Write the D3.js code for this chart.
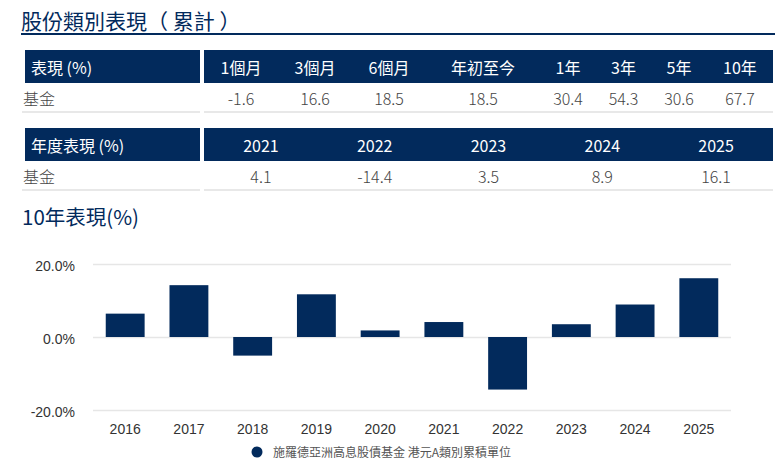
<!DOCTYPE html>
<html>
<head>
<meta charset="utf-8">
<script src="https://cdn.jsdelivr.net/npm/d3@7"></script>
<style>
  body { margin: 0; background: #fff; }
  svg { display: block; }
</style>
</head>
<body>
<svg id="chart" width="775" height="470"></svg>
<script>
// table 1: cumulative
const cumHeaders = ["1個月", "3個月", "6個月", "年初至今", "1年", "3年", "5年", "10年"];
const cumValues = ["-1.6", "16.6", "18.5", "18.5", "30.4", "54.3", "30.6", "67.7"];

// table 2: calendar year
const yearHeaders = ["2021", "2022", "2023", "2024", "2025"];
const yearValues = ["4.1", "-14.4", "3.5", "8.9", "16.1"];

// bar chart
const years = ["2016", "2017", "2018", "2019", "2020", "2021", "2022", "2023", "2024", "2025"];
const returns = [6.4, 14.2, -5.1, 11.7, 1.8, 4.1, -14.4, 3.5, 8.9, 16.1];
const yTicks = [-20, 0, 20];
const seriesName = "施羅德亞洲高息股債基金 港元A類別累積單位";

const navy = "#022a5c";
const cjk = "'Noto Sans CJK TC', 'Noto Sans', sans-serif";
const sans = "'Liberation Sans', Arial, sans-serif";

const svg = d3.select("#chart");

// main heading + underline
svg.append("text")
  .attr("x", 21).attr("y", 29)
  .attr("font-family", cjk).attr("font-size", 21)
  .attr("fill", navy)
  .text("股份類別表現（ 累計 ）");
svg.append("rect")
  .attr("x", 21).attr("y", 33).attr("width", 754).attr("height", 2)
  .attr("fill", navy);

// draw one table block
function drawTable(top, label, headers, values, widths) {
  const left = 204, right = 773;
  let edges = [left];
  widths.forEach(w => edges.push(edges[edges.length - 1] + w));
  const sx = d3.scaleLinear().domain([left, edges[edges.length - 1]]).range([left, right]);
  const centers = headers.map((d, i) => sx((edges[i] + edges[i + 1]) / 2));

  const g = svg.append("g");
  g.append("rect").attr("x", 25).attr("y", top).attr("width", 175).attr("height", 33).attr("fill", navy);
  g.append("rect").attr("x", left).attr("y", top).attr("width", right - left).attr("height", 33).attr("fill", navy);
  g.append("text")
    .attr("x", 31).attr("y", top + 24)
    .attr("font-family", cjk).attr("font-size", 16).attr("fill", "#fff")
    .text(label);

  g.selectAll(".hd").data(headers).join("text")
    .attr("class", "hd")
    .attr("x", (d, i) => centers[i]).attr("y", top + 24)
    .attr("text-anchor", "middle")
    .attr("font-family", cjk).attr("font-size", 16).attr("fill", "#fff")
    .text(d => d);

  g.append("text")
    .attr("x", 23).attr("y", top + 55)
    .attr("font-family", cjk).attr("font-size", 16).attr("font-weight", 300).attr("fill", "#444")
    .text("基金");

  g.selectAll(".val").data(values).join("text")
    .attr("class", "val")
    .attr("x", (d, i) => centers[i]).attr("y", top + 55)
    .attr("text-anchor", "middle")
    .attr("font-family", cjk).attr("font-size", 16).attr("font-weight", 300).attr("fill", "#444")
    .text(d => d);

  g.append("rect").attr("x", 22).attr("y", top + 61).attr("width", 178).attr("height", 2).attr("fill", "#e8e8e8");
  g.append("rect").attr("x", left).attr("y", top + 61).attr("width", right - left).attr("height", 2).attr("fill", "#e8e8e8");
}

drawTable(50, "表現 (%)", cumHeaders, cumValues, [74, 74, 74, 114, 56, 55, 56, 66]);
drawTable(128, "年度表現 (%)", yearHeaders, yearValues, yearHeaders.map(() => 1));

// chart heading
svg.append("text")
  .attr("x", 22).attr("y", 225)
  .attr("font-family", cjk).attr("font-size", 20.5)
  .attr("fill", navy)
  .text("10年表現(%)");

// bar chart
const plot = { left: 93, right: 731, top: 264, bottom: 410 };

const x = d3.scaleBand()
  .domain(years)
  .range([plot.left, plot.right])
  .paddingInner(0.39)
  .paddingOuter(0.2);

const y = d3.scaleLinear()
  .domain([-20, 20])
  .range([plot.bottom, plot.top]);

const grid = svg.append("g")
  .attr("transform", `translate(${plot.left},0)`)
  .call(d3.axisLeft(y).tickValues(yTicks).tickSize(-(plot.right - plot.left))
    .tickFormat(d => d.toFixed(1) + "%"));
grid.select(".domain").remove();
grid.selectAll(".tick line").attr("stroke", "#e6e6e6").attr("stroke-width", 1.5);
grid.selectAll(".tick text")
  .attr("x", -18).attr("dy", "0.45em")
  .attr("font-family", sans).attr("font-size", 14).attr("fill", "#333");

svg.append("g").selectAll("rect").data(returns).join("rect")
  .attr("x", (d, i) => x(years[i]))
  .attr("width", x.bandwidth())
  .attr("y", d => y(Math.max(0, d)))
  .attr("height", d => Math.abs(y(d) - y(0)))
  .attr("fill", navy);

const xa = svg.append("g")
  .attr("transform", `translate(0,${plot.bottom})`)
  .call(d3.axisBottom(x).tickSize(0).tickPadding(14));
xa.select(".domain").remove();
xa.selectAll(".tick text")
  .attr("font-family", sans).attr("font-size", 14).attr("fill", "#333");

// legend
const lg = svg.append("g");
lg.append("circle").attr("cx", 257).attr("cy", 452).attr("r", 5.5).attr("fill", navy);
lg.append("text")
  .attr("x", 273).attr("y", 457)
  .attr("font-family", cjk).attr("font-size", 12).attr("fill", "#555")
  .text(seriesName);
</script>
</body>
</html>
